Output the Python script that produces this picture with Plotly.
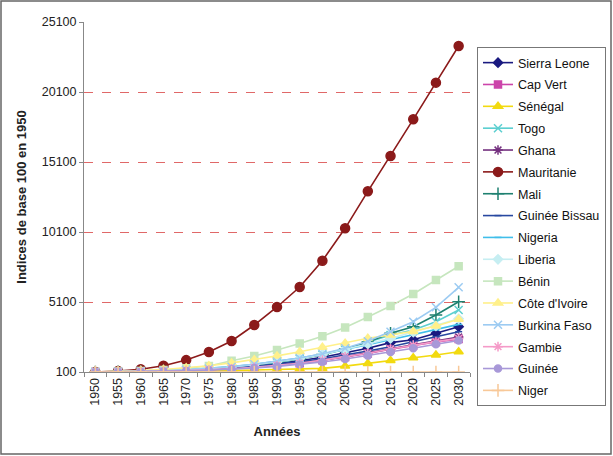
import plotly.graph_objects as go

years = [str(y) for y in range(1950, 2031, 5)]

sierra_leone = [100, 115, 140, 175, 230, 310, 410, 540, 700, 900, 1150, 1450, 1800, 2200, 2400, 2864, 3336]
cap_vert = [100, 110, 128, 155, 195, 255, 330, 430, 560, 720, 940, 1180, 1420, 1720, 2000, 2250, 2450]
senegal = [100, 105, 115, 130, 150, 175, 200, 230, 260, 300, 360, 520, 710, 930, 1120, 1320, 1550]
togo = [100, 115, 140, 180, 240, 330, 440, 590, 780, 1030, 1330, 1700, 2200, 2743, 3100, 3693, 4529]
ghana = [100, 112, 130, 160, 200, 260, 340, 440, 570, 740, 960, 1200, 1450, 1750, 2050, 2300, 2600]
mauritanie = [100, 171, 300, 550, 950, 1529, 2314, 3457, 4743, 6171, 8052, 10362, 13007, 15529, 18148, 20767, 23386]
mali = [100, 115, 140, 180, 240, 330, 450, 600, 800, 1050, 1350, 1750, 2250, 2864, 3336, 4171, 5121]
guinee_bissau = [100, 115, 135, 170, 220, 290, 380, 500, 650, 830, 1050, 1300, 1600, 1907, 2264, 2621, 2979]
nigeria = [100, 120, 145, 190, 260, 360, 490, 650, 850, 1100, 1380, 1700, 2050, 2400, 2750, 3100, 3500]
liberia = [100, 118, 145, 185, 250, 340, 460, 620, 820, 1050, 1350, 1700, 2100, 2500, 2950, 3400, 3900]
benin = [100, 130, 171, 243, 371, 529, 900, 1243, 1671, 2130, 2650, 3280, 4030, 4814, 5671, 6671, 7650]
cote_ivoire = [100, 140, 200, 280, 400, 550, 750, 980, 1250, 1550, 1864, 2150, 2507, 2750, 3000, 3386, 3864]
burkina = [100, 120, 150, 190, 250, 350, 480, 650, 850, 1100, 1400, 1800, 2300, 2979, 3693, 4721, 6150]
gambie = [100, 111, 130, 158, 198, 258, 335, 435, 565, 730, 950, 1190, 1440, 1740, 2020, 2270, 2500]
guinee = [100, 108, 122, 145, 180, 230, 300, 390, 500, 640, 820, 1030, 1270, 1530, 1800, 2080, 2350]
niger = [100, 100, 100, 100, 100, 100, 100, 100, 100, 100, 100, 100, 100, 100, 100, 100, 100]

y_ticks = [100, 5100, 10100, 15100, 20100, 25100]
y_tick_labels = ["100", "5100", "10100", "15100", "20100", "25100"]

series = [
    ("Sierra Leone", sierra_leone, "#1A1A80", "diamond", 7),
    ("Cap Vert", cap_vert, "#CC44AA", "square", 7),
    ("Sénégal", senegal, "#F2DA10", "triangle-up", 8),
    ("Togo", togo, "#5CCFD0", "x-thin-open", 8),
    ("Ghana", ghana, "#74307F", "asterisk-open", 8),
    ("Mauritanie", mauritanie, "#8B1A1A", "circle", 9),
    ("Mali", mali, "#1E8070", "cross-thin-open", 9),
    ("Guinée Bissau", guinee_bissau, "#2848A0", "line-ew-open", 5),
    ("Nigeria", nigeria, "#40BEEA", "line-ew-open", 5),
    ("Liberia", liberia, "#C6EEF2", "diamond", 7),
    ("Bénin", benin, "#C6E6BE", "square", 7),
    ("Côte d'Ivoire", cote_ivoire, "#FFF08A", "triangle-up", 8),
    ("Burkina Faso", burkina, "#9CCBF2", "x-thin-open", 8),
    ("Gambie", gambie, "#F59AC8", "asterisk-open", 8),
    ("Guinée", guinee, "#A898D8", "circle", 7),
    ("Niger", niger, "#F8C898", "cross-thin-open", 9),
]

fig = go.Figure()
for name, vals, color, sym, size in series:
    fig.add_trace(go.Scatter(
        x=years, y=vals, name=name, mode="lines+markers", legendgroup=name,
        line=dict(color=color, width=1.6),
        marker=dict(symbol=sym, size=size, color=color,
                    line=dict(color=color, width=1.5)),
    ))

W, H = 613, 456
L, R, T, B = 84, 143, 22, 84
pw, ph = W - L - R, H - T - B

def px(x):
    return (x - L) / pw

def py(y):
    return (H - B - y) / ph

fig.update_layout(
    width=W, height=H,
    margin=dict(l=L, r=R, t=T, b=B, autoexpand=False),
    paper_bgcolor="white", plot_bgcolor="white",
    font=dict(family="Liberation Sans, Arial", size=12, color="#222"),
    showlegend=True,
    legend=dict(
        x=px(477), y=py(47), xanchor="left", yanchor="top",
        bordercolor="#777", borderwidth=1, bgcolor="white",
        font=dict(size=12.5, color="#111"),
        itemwidth=30, tracegroupgap=2.6, maxheight=440,
    ),
    xaxis=dict(
        type="category", tickangle=-90, tickson="boundaries",
        range=[-0.5, 16.5],
        ticks="outside", ticklen=4, tickcolor="#888",
        showline=True, linecolor="#888", linewidth=1,
        showgrid=False, zeroline=False, automargin=False,
        tickfont=dict(size=12.5, color="#222"),
        title=dict(text="<b>Années</b>", font=dict(size=13, color="#222"), standoff=22),
    ),
    yaxis=dict(
        range=[100, 25100], tickvals=y_ticks, ticktext=y_tick_labels,
        ticks="outside", ticklen=4, tickcolor="#888",
        showline=True, linecolor="#888", linewidth=1,
        showgrid=True, gridcolor="#E06868", griddash="dash", gridwidth=1,
        zeroline=False, automargin=False,
        tickfont=dict(size=12.5, color="#222"),
        title=dict(text="<b>Indices de base 100 en 1950</b>", font=dict(size=13, color="#222"), standoff=12),
    ),
)

fig.add_shape(type="rect", xref="paper", yref="paper",
              x0=px(1), x1=px(611), y0=py(454), y1=py(1),
              line=dict(color="#666", width=1.5), fillcolor="rgba(0,0,0,0)", layer="below")

fig.write_html("out.html")
